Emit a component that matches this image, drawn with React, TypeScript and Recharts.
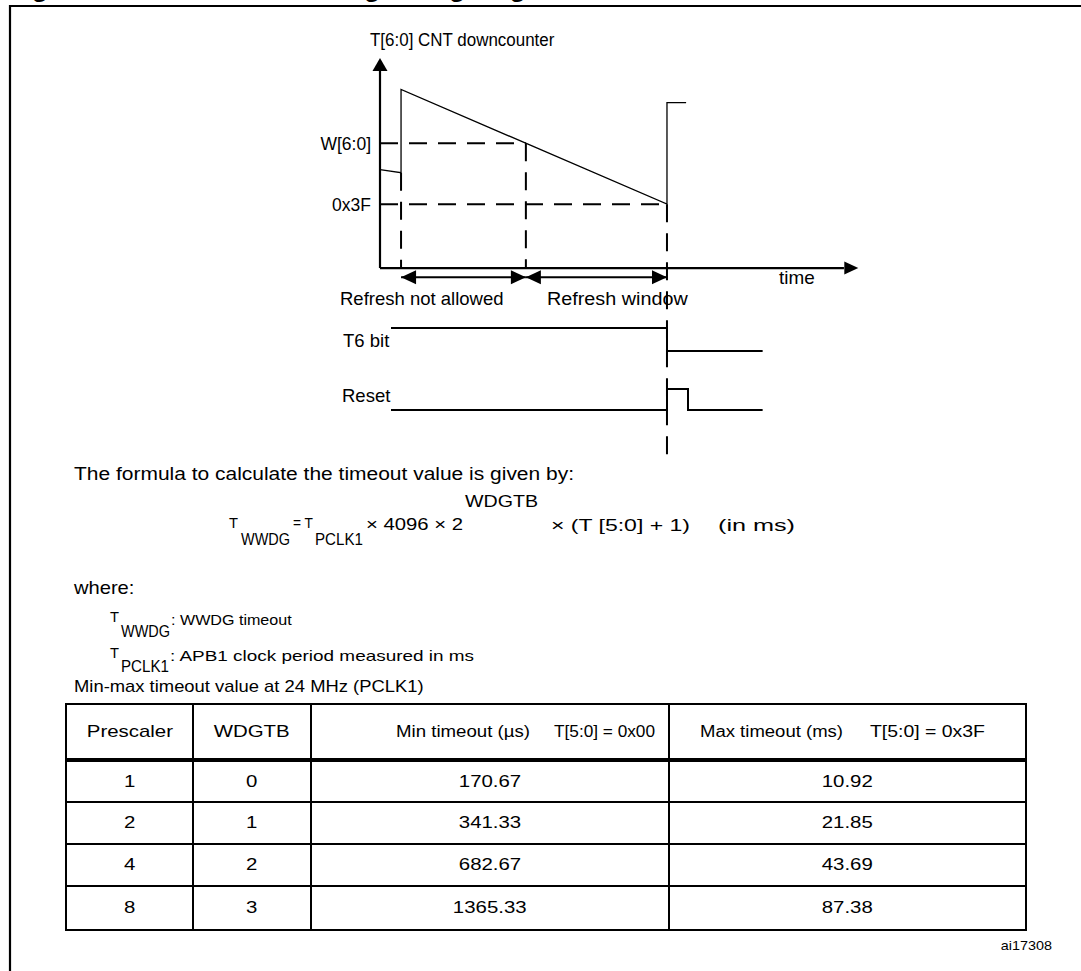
import React from "react";
import { LineChart, Line, XAxis, YAxis, ReferenceLine, ReferenceDot } from "recharts";

// time runs 0..100 along the time axis (arbitrary ticks), counter in schematic counts
const counterTime = [0, 4.4, 4.4, 60, 60, 64];
const counterValue = [97, 94, 176, 63, 163, 163];
const windowValue = 123; // W[6:0]
const thresholdValue = 63; // 0x3F
const refreshTime = 4.4;
const windowTime = 30.5;
const timeoutTime = 60;

const t6Time = [2.3, 60, 60, 80];
const t6Level = [1, 1, 0, 0];
const resetTime = [2.3, 60, 60, 64.4, 64.4, 80];
const resetLevel = [0, 0, 1, 1, 0, 0];

// min-max timeout table
const prescalers = ["1", "2", "4", "8"];
const wdgtbValues = ["0", "1", "2", "3"];
const minTimeouts = ["170.67", "341.33", "682.67", "1365.33"];
const maxTimeouts = ["10.92", "21.85", "43.69", "87.38"];

const FONT = "'Liberation Sans', Arial, Helvetica, sans-serif";
const SX = 1.15;
const DASH = "18 11";

const counterData = counterTime.map((t, i) => ({ t, v: counterValue[i] }));
const t6Data = t6Time.map((t, i) => ({ t, v: t6Level[i] }));
const resetData = resetTime.map((t, i) => ({ t, v: resetLevel[i] }));

function Txt({ x, y, size, children, anchor = "start", sx = SX, bold = false, w }: any) {
  if (w) {
    return (
      <text x={x} y={y} fontSize={size} fontFamily={FONT} textAnchor={anchor} fill="#000" textLength={w} lengthAdjust="spacingAndGlyphs">
        {children}
      </text>
    );
  }
  return (
    <text
      transform={`translate(${x} ${y}) scale(${sx} 1)`}
      fontSize={size}
      fontFamily={FONT}
      fontWeight={bold ? "bold" : "normal"}
      textAnchor={anchor}
      fill="#000"
    >
      {children}
    </text>
  );
}

const arrowHead = (dir: string, len = 14, half = 7) => (props: any) => {
  const { cx, cy } = props;
  let pts = "";
  if (dir === "up") pts = `${cx},${cy} ${cx - half},${cy + len} ${cx + half},${cy + len}`;
  if (dir === "right") pts = `${cx},${cy} ${cx - len},${cy - half} ${cx - len},${cy + half}`;
  if (dir === "left") pts = `${cx},${cy} ${cx + len},${cy - half} ${cx + len},${cy + half}`;
  return <polygon points={pts} fill="#000" />;
};

const margin = { top: 38, right: 41.7, bottom: 10, left: 80 };
const ARROW_Y = -9;

function CounterChart() {
  return (
    <LineChart width={600} height={460} margin={margin}>
      <XAxis type="number" dataKey="t" domain={[0, 100]} hide allowDataOverflow />
      <YAxis type="number" dataKey="v" domain={[-199, 207]} hide allowDataOverflow />
      {/* axes */}
      <ReferenceLine segment={[{ x: 0, y: 0 }, { x: 0, y: 200 }]} stroke="#000" strokeWidth={2.2} ifOverflow="visible" />
      <ReferenceDot x={0} y={207} ifOverflow="visible" shape={arrowHead("up", 13, 7.5)} />
      <ReferenceLine segment={[{ x: 0, y: 0 }, { x: 97, y: 0 }]} stroke="#000" strokeWidth={2.2} ifOverflow="visible" />
      <ReferenceDot x={100} y={0} ifOverflow="visible" shape={arrowHead("right", 14, 6.5)} />
      {/* window thresholds */}
      <ReferenceLine segment={[{ x: 0, y: windowValue }, { x: windowTime, y: windowValue }]} stroke="#000" strokeWidth={2} strokeDasharray={DASH} ifOverflow="visible" />
      <ReferenceLine segment={[{ x: 0, y: thresholdValue }, { x: timeoutTime, y: thresholdValue }]} stroke="#000" strokeWidth={2} strokeDasharray={DASH} ifOverflow="visible" />
      <ReferenceLine segment={[{ x: refreshTime, y: counterValue[1] }, { x: refreshTime, y: 0 }]} stroke="#000" strokeWidth={2} strokeDasharray={DASH} ifOverflow="visible" />
      <ReferenceLine segment={[{ x: windowTime, y: windowValue }, { x: windowTime, y: 0 }]} stroke="#000" strokeWidth={2} strokeDasharray={DASH} ifOverflow="visible" />
      <ReferenceLine segment={[{ x: timeoutTime, y: thresholdValue }, { x: timeoutTime, y: -184 }]} stroke="#000" strokeWidth={2} strokeDasharray={DASH} ifOverflow="visible" />
      {/* interval arrows */}
      <ReferenceLine segment={[{ x: refreshTime, y: ARROW_Y }, { x: windowTime, y: ARROW_Y }]} stroke="#000" strokeWidth={2} ifOverflow="visible" />
      <ReferenceLine segment={[{ x: windowTime, y: ARROW_Y }, { x: timeoutTime, y: ARROW_Y }]} stroke="#000" strokeWidth={2} ifOverflow="visible" />
      <ReferenceDot x={refreshTime} y={ARROW_Y} ifOverflow="visible" shape={arrowHead("left", 15, 7)} />
      <ReferenceDot x={windowTime} y={ARROW_Y} ifOverflow="visible" shape={arrowHead("right", 15, 7)} />
      <ReferenceDot x={windowTime} y={ARROW_Y} ifOverflow="visible" shape={arrowHead("left", 15, 7)} />
      <ReferenceDot x={timeoutTime} y={ARROW_Y} ifOverflow="visible" shape={arrowHead("right", 15, 7)} />
      <Line data={counterData} dataKey="v" type="linear" stroke="#000" strokeWidth={1.3} dot={false} isAnimationActive={false} />
    </LineChart>
  );
}

function SignalChart({ data, height }: any) {
  return (
    <LineChart width={600} height={height} margin={{ top: 4, right: 41.7, bottom: 4, left: 80 }}>
      <XAxis type="number" dataKey="t" domain={[0, 100]} hide allowDataOverflow />
      <YAxis type="number" dataKey="v" domain={[0, 1]} hide />
      <Line data={data} dataKey="v" type="linear" stroke="#000" strokeWidth={2} dot={false} isAnimationActive={false} />
    </LineChart>
  );
}

const cols = [127, 118, 358, 355];
const rowHeights = [41, 42, 42, 42];
const TSX = 1.2;

function cellText(s: string, size = 17) {
  return (
    <span style={{ display: "inline-block", fontSize: size, transform: `scaleX(${TSX})`, whiteSpace: "pre" }}>{s}</span>
  );
}

function TimeoutTable() {
  const cell = (i: number, last: boolean): React.CSSProperties => ({
    width: cols[i],
    boxSizing: "border-box",
    borderRight: last ? "none" : "2px solid #000",
    display: "flex",
    alignItems: "center",
    justifyContent: "center",
    height: "100%",
  });
  return (
    <div
      style={{
        position: "absolute",
        left: 65,
        top: 703,
        width: 962,
        height: 228,
        border: "2px solid #000",
        boxSizing: "border-box",
        fontFamily: FONT,
        color: "#000",
      }}
    >
      <div style={{ display: "flex", height: 57, borderBottom: "4px solid #000", boxSizing: "border-box" }}>
        <div style={cell(0, false)}>{cellText("Prescaler")}</div>
        <div style={cell(1, false)}>{cellText("WDGTB")}</div>
        <div style={cell(2, false)} />
        <div style={cell(3, true)} />
      </div>
      {prescalers.map((p, r) => (
        <div
          key={p}
          style={{
            display: "flex",
            height: rowHeights[r],
            borderBottom: r < prescalers.length - 1 ? "2px solid #000" : "none",
            boxSizing: "border-box",
          }}
        >
          <div style={cell(0, false)}>{cellText(p)}</div>
          <div style={cell(1, false)}>{cellText(wdgtbValues[r])}</div>
          <div style={cell(2, false)}>{cellText(minTimeouts[r])}</div>
          <div style={cell(3, true)}>{cellText(maxTimeouts[r])}</div>
        </div>
      ))}
    </div>
  );
}

export default function App() {
  return (
    <div style={{ position: "absolute", left: 0, top: 0, width: 1081, height: 971, background: "#fff", overflow: "hidden" }}>
      <svg width={1081} height={971} style={{ position: "absolute", left: 0, top: 0 }}>
        <Txt x={9} y={-3.5} size={24} sx={1.08} bold>Figure 176. Window watchdog timing diagram</Txt>
        <path d="M10,971 V6 H1081" fill="none" stroke="#000" strokeWidth={2.2} />
        {/* diagram labels */}
        <Txt x={370} y={46} size={17.5} sx={0.97}>T[6:0] CNT downcounter</Txt>
        <Txt x={371} y={150} size={17.5} sx={1.0} anchor="end">W[6:0]</Txt>
        <Txt x={371} y={211} size={17.5} sx={1.0} anchor="end">0x3F</Txt>
        <Txt x={779} y={284} size={18} sx={1.05}>time</Txt>
        <Txt x={340} y={305} size={18.5} sx={1.0}>Refresh not allowed</Txt>
        <Txt x={547} y={305} size={18.5} sx={1.07}>Refresh window</Txt>
        <Txt x={343} y={347} size={18.5} sx={1.0}>T6 bit</Txt>
        <Txt x={342} y={402} size={18.5} sx={1.0}>Reset</Txt>
        {/* formula */}
        <Txt x={74} y={480} size={17.5} w={500}>The formula to calculate the timeout value is given by:</Txt>
        <Txt x={229} y={528} size={14} w={9}>T</Txt>
        <Txt x={241} y={545} size={17} w={49}>WWDG</Txt>
        <Txt x={293} y={528} size={14} w={20}>= T</Txt>
        <Txt x={315} y={545} size={17} w={48}>PCLK1</Txt>
        <Txt x={366} y={530} size={16} w={97}>×  4096   ×  2</Txt>
        <Txt x={465} y={507} size={17} w={73}>WDGTB</Txt>
        <Txt x={551} y={531} size={16} w={139}>×   (T [5:0] + 1)</Txt>
        <Txt x={718} y={531} size={16} w={77}>(in ms)</Txt>
        <Txt x={74} y={594} size={17.5}>where:</Txt>
        <Txt x={110} y={622} size={14} w={9}>T</Txt>
        <Txt x={121} y={637} size={17} w={49}>WWDG</Txt>
        <Txt x={171} y={625} size={14}>: WWDG timeout</Txt>
        <Txt x={110} y={658} size={14} w={9}>T</Txt>
        <Txt x={121} y={672} size={17} w={48}>PCLK1</Txt>
        <Txt x={170} y={661} size={14.5} w={304}>: APB1 clock period measured in ms</Txt>
        <Txt x={74} y={692} size={16}>Min-max timeout value at 24 MHz (PCLK1)</Txt>
        {/* table headers of the timeout columns */}
        <Txt x={396} y={737} size={16} w={134}>Min timeout (µs)</Txt>
        <Txt x={554} y={737} size={16} w={101}>T[5:0] = 0x00</Txt>
        <Txt x={700} y={737} size={16} w={143}>Max timeout (ms)</Txt>
        <Txt x={870} y={737} size={16} w={115}>T[5:0] = 0x3F</Txt>
        <Txt x={1052} y={950} size={12.5} anchor="end">ai17308</Txt>
      </svg>
      <div style={{ position: "absolute", left: 300, top: 20 }}>
        <CounterChart />
      </div>
      <div style={{ position: "absolute", left: 300, top: 324 }}>
        <SignalChart data={t6Data} height={31} />
      </div>
      <div style={{ position: "absolute", left: 300, top: 385 }}>
        <SignalChart data={resetData} height={29} />
      </div>
      <TimeoutTable />
    </div>
  );
}
